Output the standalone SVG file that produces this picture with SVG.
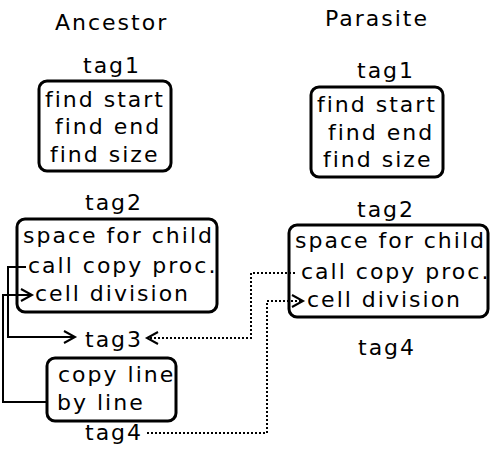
<svg xmlns="http://www.w3.org/2000/svg" width="490" height="455" viewBox="0 0 490 455">
<style>
text{font-family:"DejaVu Sans","Liberation Sans",sans-serif;font-size:22px;letter-spacing:2px;fill:#000}
.box{fill:#fff;stroke:#000;stroke-width:3}
.solid{fill:none;stroke:#000;stroke-width:2}
.dot{fill:none;stroke:#000;stroke-width:2;stroke-dasharray:2 2}
</style>
<defs>
<marker id="arr" markerUnits="userSpaceOnUse" markerWidth="14" markerHeight="14" refX="11" refY="6" orient="auto" overflow="visible">
<path d="M0,0 L11,6 L0,12" fill="none" stroke="#000" stroke-width="2" stroke-dasharray="none"/>
</marker>
</defs>
<rect width="490" height="455" fill="#fff"/>
<text id="title-ancestor" x="55" y="30">Ancestor</text>
<text id="title-parasite" x="325" y="26">Parasite</text>
<g id="anc-tag1">
<text x="83" y="73">tag1</text>
<rect class="box" x="39" y="81" width="132" height="90" rx="8"/>
<text x="45" y="107">find start</text>
<text x="55" y="134">find end</text>
<text x="50" y="162">find size</text>
</g>
<g id="par-tag1">
<text x="357" y="78">tag1</text>
<rect class="box" x="311" y="87" width="132" height="90" rx="8"/>
<text x="317" y="112">find start</text>
<text x="328" y="140">find end</text>
<text x="323" y="167">find size</text>
</g>
<g id="anc-tag2">
<text x="85" y="210">tag2</text>
<rect class="box" x="17" y="219" width="200" height="93" rx="8"/>
<text x="23" y="243">space for child</text>
<text x="28" y="273">call copy proc.</text>
<text x="35" y="301">cell division</text>
</g>
<g id="par-tag2">
<text x="357" y="217">tag2</text>
<rect class="box" x="289" y="225" width="199" height="92" rx="8"/>
<text x="295" y="248">space for child</text>
<text x="301" y="279">call copy proc.</text>
<text x="307" y="307">cell division</text>
</g>
<g id="anc-tag3">
<text x="85" y="347">tag3</text>
</g>
<g id="anc-copy">
<rect class="box" x="47" y="358" width="129" height="63" rx="8"/>
<text x="58" y="382">copy line</text>
<text x="57" y="410">by line</text>
</g>
<g id="anc-tag4">
<text x="85" y="440">tag4</text>
</g>
<g id="par-tag4">
<text x="358" y="355">tag4</text>
</g>
<g id="connectors">
<path class="solid" d="M26,267 H8 V337 H75" marker-end="url(#arr)"/>
<path class="solid" d="M47,402 H3 V295 H32" marker-end="url(#arr)"/>
<path class="dot" d="M295,273 H251 V338 H147" marker-end="url(#arr)"/>
<path class="dot" d="M147,433 H267 V301 H303" marker-end="url(#arr)"/>
</g>
</svg>
